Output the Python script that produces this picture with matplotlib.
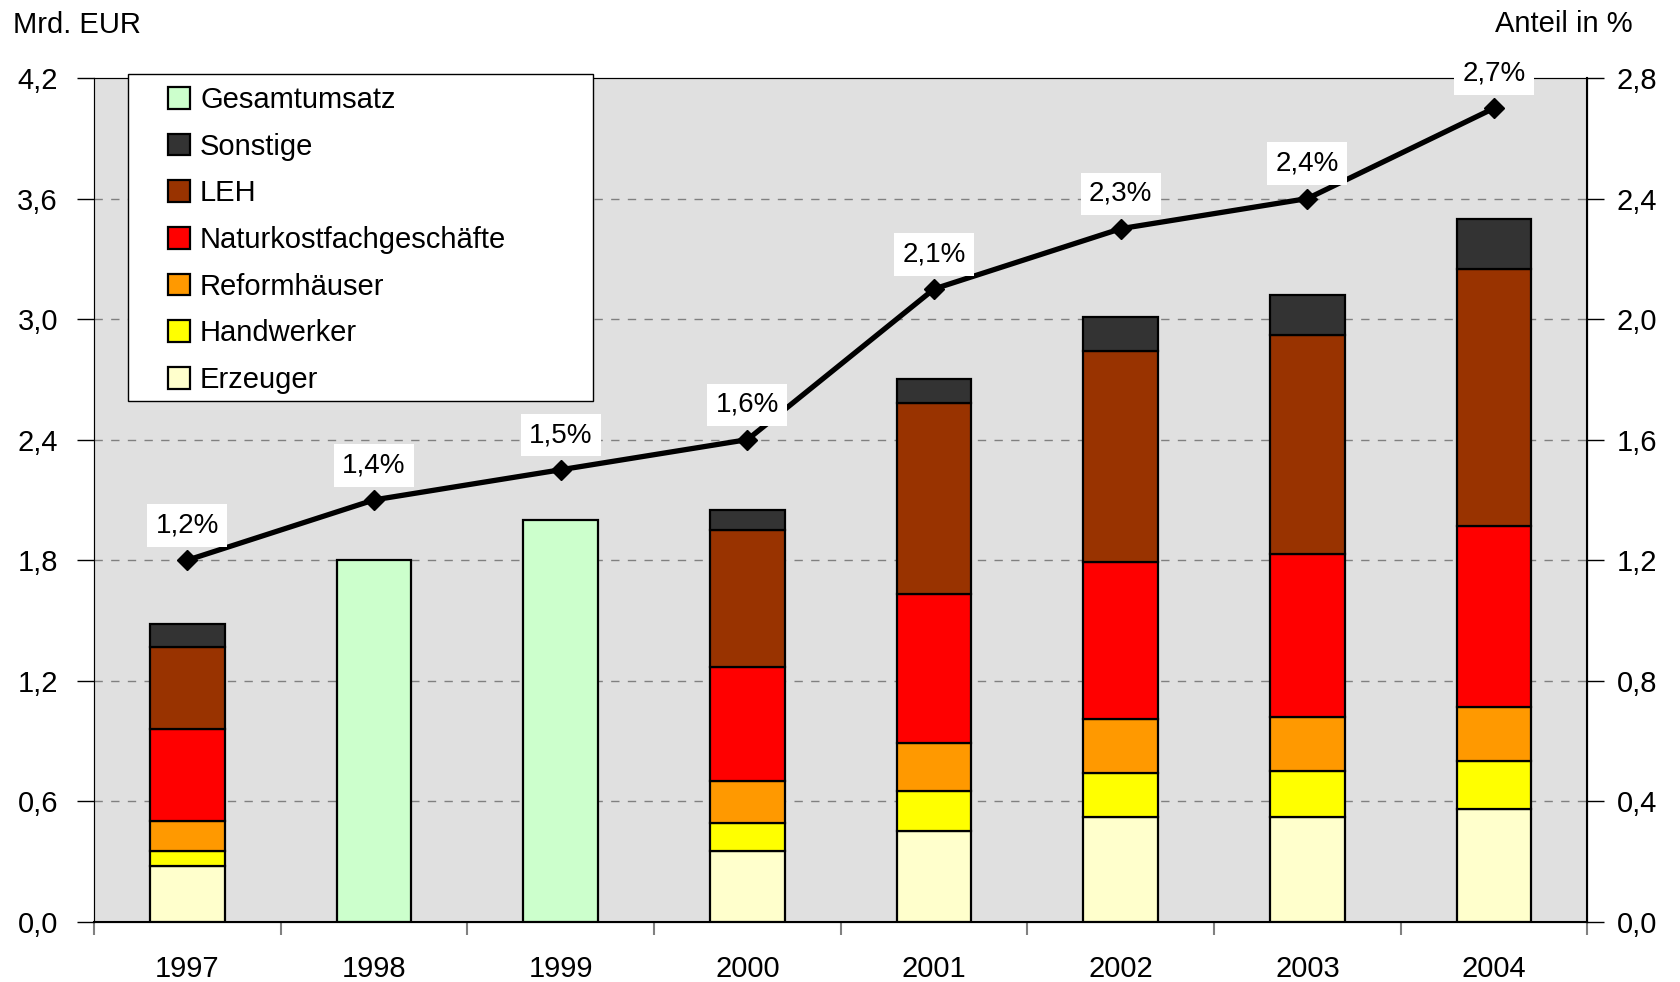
import numpy as np
import matplotlib
matplotlib.use('Agg')
import matplotlib.pyplot as plt
from matplotlib.patches import Rectangle, Patch

plt.rcParams['font.family'] = ['Liberation Sans', 'DejaVu Sans']

# Daten
jahre = ['1997', '1998', '1999', '2000', '2001', '2002', '2003', '2004']
gesamtumsatz = [None, 1.80, 2.00, None, None, None, None, None]
erzeuger = [0.28, None, None, 0.35, 0.45, 0.52, 0.52, 0.56]
handwerker = [0.07, None, None, 0.14, 0.20, 0.22, 0.23, 0.24]
reformhaeuser = [0.15, None, None, 0.21, 0.24, 0.27, 0.27, 0.27]
naturkost = [0.46, None, None, 0.57, 0.74, 0.78, 0.81, 0.90]
leh = [0.41, None, None, 0.68, 0.95, 1.05, 1.09, 1.28]
sonstige = [0.11, None, None, 0.10, 0.12, 0.17, 0.20, 0.25]
anteil = [1.2, 1.4, 1.5, 1.6, 2.1, 2.3, 2.4, 2.7]
anteil_labels = ['1,2%', '1,4%', '1,5%', '1,6%', '2,1%', '2,3%', '2,4%', '2,7%']

left_ticks = [0.0, 0.6, 1.2, 1.8, 2.4, 3.0, 3.6, 4.2]
right_ticks = [0.0, 0.4, 0.8, 1.2, 1.6, 2.0, 2.4, 2.8]

segmente = [
    ('Erzeuger', erzeuger, '#FFFFCC'),
    ('Handwerker', handwerker, '#FFFF00'),
    ('Reformhäuser', reformhaeuser, '#FF9900'),
    ('Naturkostfachgeschäfte', naturkost, '#FF0000'),
    ('LEH', leh, '#993300'),
    ('Sonstige', sonstige, '#333333'),
]
gesamt_farbe = '#CCFFCC'

W, H = 1681, 982
fig = plt.figure(figsize=(W / 100, H / 100), dpi=100)
ax = fig.add_axes([94 / W, 1 - 921.8 / H, (1587.5 - 94) / W, (921.8 - 78) / H])
ax.set_facecolor('#E0E0E0')

x = np.arange(len(jahre))
breite = 0.40

# Gesamtumsatz (nur 1998, 1999)
gx = [i for i, v in enumerate(gesamtumsatz) if v is not None]
gv = [v for v in gesamtumsatz if v is not None]
ax.bar(gx, gv, breite, color=gesamt_farbe, edgecolor='black', linewidth=1.6, zorder=3)

# gestapelte Balken
idx = [i for i, v in enumerate(erzeuger) if v is not None]
unten = np.zeros(len(idx))
for name, werte, farbe in segmente:
    w = np.array([werte[i] for i in idx])
    ax.bar(idx, w, breite, bottom=unten, color=farbe, edgecolor='black', linewidth=1.6, zorder=3)
    unten = unten + w

ax.set_xlim(-0.5, len(jahre) - 0.5)
ax.set_ylim(0, 4.2)
ax.set_yticks(left_ticks)
ax.set_yticklabels([('%.1f' % t).replace('.', ',') for t in left_ticks], fontsize=21)
ax.tick_params(axis='y', length=12, width=1, pad=14, colors='black')
for t in left_ticks[1:-1]:
    ax.axhline(t, color='#808080', linewidth=1, linestyle=(0, (6, 6)), zorder=1)

ax.set_xticks(x)
ax.set_xticklabels(jahre, fontsize=21)
ax.tick_params(axis='x', which='major', length=0, pad=24)
ax.set_xticks(np.arange(-0.5, len(jahre), 1.0), minor=True)
ax.tick_params(axis='x', which='minor', length=9, width=1.5, color='#808080')

ax.spines['left'].set_color('#555555')
ax.spines['top'].set_color('#333333')
ax.spines['bottom'].set_color('black')
ax.spines['right'].set_color('black')
ax.spines['bottom'].set_linewidth(1.5)

# rechte Achse: Anteil in %
ax2 = ax.twinx()
ax2.set_ylim(0, 2.8)
ax2.set_yticks(right_ticks)
ax2.set_yticklabels([('%.1f' % t).replace('.', ',') for t in right_ticks], fontsize=21)
ax2.tick_params(axis='y', length=12, width=1, pad=9)
ax2.spines['right'].set_color('black')
ax2.spines['right'].set_linewidth(1.5)
ax2.plot(x, anteil, color='black', linewidth=3.8, marker='D', markersize=10, zorder=4)
for xi, yi, lab in zip(x, anteil, anteil_labels):
    ax2.annotate(lab, (xi, yi), xytext=(0, 25), textcoords='offset points',
                 ha='center', va='center', fontsize=20, zorder=5,
                 bbox=dict(boxstyle='square,pad=0.3', facecolor='white', edgecolor='none'))

# Achsentitel
fig.text(13 / W, 1 - 33 / H, 'Mrd. EUR', fontsize=21, va='baseline', ha='left')
fig.text(1633 / W, 1 - 32 / H, 'Anteil in %', fontsize=21, va='baseline', ha='right')

# Legende
fig.add_artist(Rectangle((127.6 / W, 1 - 401 / H), (593 - 127.6) / W, (401 - 74) / H,
                         transform=fig.transFigure, facecolor='white', edgecolor='black',
                         linewidth=1, zorder=4))
handles = [Patch(facecolor=gesamt_farbe, edgecolor='black', linewidth=1.6, label='Gesamtumsatz')]
for name, werte, farbe in reversed(segmente):
    handles.append(Patch(facecolor=farbe, edgecolor='black', linewidth=1.6, label=name))
leg = fig.legend(handles=handles, loc='upper left', bbox_to_anchor=(168 / W, 1 - 86 / H),
                 frameon=False, fontsize=21, borderpad=0, borderaxespad=0,
                 handlelength=0.75, handleheight=0.75, handletextpad=0.35, labelspacing=0.64)
leg.set_zorder(5)

plt.savefig('out.png', dpi=100)
